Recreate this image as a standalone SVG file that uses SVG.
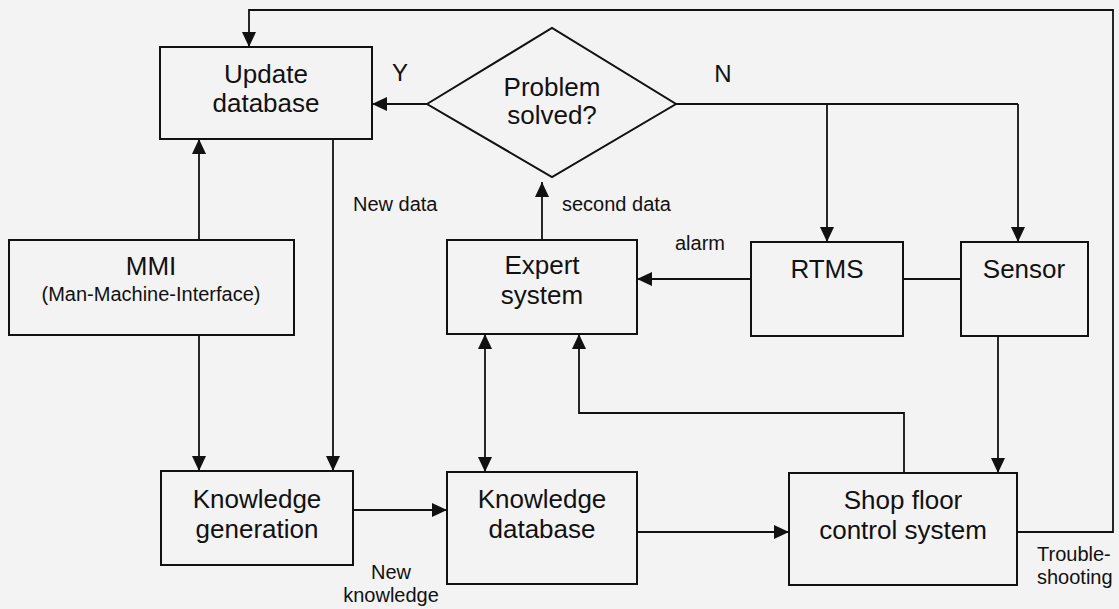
<svg xmlns="http://www.w3.org/2000/svg" width="1119" height="609" viewBox="0 0 1119 609">
  <style>
    .box { fill: none; stroke: #111; stroke-width: 2; }
    .wire { fill: none; stroke: #111; stroke-width: 1.8; }
    .lbl { font-family: "Liberation Sans", Arial, sans-serif; font-size: 26px; fill: #111; text-anchor: middle; }
    .sub { font-family: "Liberation Sans", Arial, sans-serif; font-size: 20px; fill: #111; text-anchor: middle; }
    .note { font-family: "Liberation Sans", Arial, sans-serif; font-size: 20px; fill: #111; }
    .yn { font-family: "Liberation Sans", Arial, sans-serif; font-size: 24px; fill: #111; text-anchor: middle; }
  </style>
  <defs>
    <marker id="arrow" markerUnits="userSpaceOnUse" markerWidth="16" markerHeight="14" refX="15" refY="7" orient="auto-start-reverse">
      <path d="M0,0 L15,7 L0,14 z" fill="#111"/>
    </marker>
  </defs>

  <rect x="0" y="0" width="1119" height="609" fill="#f3f3f3"/>

  <!-- connectors -->
  <g id="connectors">
    <!-- troubleshooting loop back to the update step -->
    <path class="wire" d="M1017,532 L1113,532 L1113,10 L249,10 L249,47" marker-end="url(#arrow)"/>
    <!-- Y branch -->
    <path class="wire" d="M427,104 L372,104" marker-end="url(#arrow)"/>
    <!-- N branch -->
    <path class="wire" d="M676,104 L1018,104"/>
    <path class="wire" d="M827,104 L827,242" marker-end="url(#arrow)"/>
    <path class="wire" d="M1018,104 L1018,242" marker-end="url(#arrow)"/>
    <!-- RTMS to Sensor -->
    <path class="wire" d="M903,279 L961,279"/>
    <!-- alarm -->
    <path class="wire" d="M751,279 L637,279" marker-end="url(#arrow)"/>
    <!-- second data -->
    <path class="wire" d="M542,240 L542,182" marker-end="url(#arrow)"/>
    <!-- MMI links -->
    <path class="wire" d="M199,240 L199,139" marker-end="url(#arrow)"/>
    <path class="wire" d="M199,335 L199,471" marker-end="url(#arrow)"/>
    <!-- new data -->
    <path class="wire" d="M333,139 L333,471" marker-end="url(#arrow)"/>
    <!-- new knowledge -->
    <path class="wire" d="M353,510 L447,510" marker-end="url(#arrow)"/>
    <!-- expert system <-> knowledge database -->
    <path class="wire" d="M485,334 L485,472" marker-start="url(#arrow)" marker-end="url(#arrow)"/>
    <!-- shop floor feedback to expert system -->
    <path class="wire" d="M904,473 L904,413 L579,413 L579,334" marker-end="url(#arrow)"/>
    <!-- knowledge database to shop floor -->
    <path class="wire" d="M637,532 L789,532" marker-end="url(#arrow)"/>
    <!-- sensor to shop floor -->
    <path class="wire" d="M998,336 L998,473" marker-end="url(#arrow)"/>
    <text class="yn" x="400" y="81">Y</text>
    <text class="yn" x="723" y="82">N</text>
    <text class="note" x="700" y="250" text-anchor="middle">alarm</text>
    <text class="note" x="562" y="211">second data</text>
    <text class="note" x="353" y="211">New data</text>
    <text class="note" x="391" y="579" text-anchor="middle">New</text>
    <text class="note" x="391" y="602" text-anchor="middle">knowledge</text>
    <text class="note" x="1037" y="561">Trouble-</text>
    <text class="note" x="1037" y="584">shooting</text>
  </g>

  <g id="update-database">
    <rect class="box" x="160" y="47" width="212" height="92"/>
    <text class="lbl" x="266" y="83">Update</text>
    <text class="lbl" x="266" y="112">database</text>
  </g>

  <g id="problem-solved">
    <polygon class="box" points="427,104 552,28 676,104 552,177"/>
    <text class="lbl" x="552" y="96">Problem</text>
    <text class="lbl" x="552" y="124">solved?</text>
  </g>

  <g id="mmi">
    <rect class="box" x="9" y="240" width="285" height="95"/>
    <text class="lbl" x="151" y="275">MMI</text>
    <text class="sub" x="151" y="301">(Man-Machine-Interface)</text>
  </g>

  <g id="expert-system">
    <rect class="box" x="447" y="240" width="190" height="94"/>
    <text class="lbl" x="542" y="274">Expert</text>
    <text class="lbl" x="542" y="304">system</text>
  </g>

  <g id="rtms">
    <rect class="box" x="751" y="242" width="152" height="94"/>
    <text class="lbl" x="827" y="278">RTMS</text>
  </g>

  <g id="sensor">
    <rect class="box" x="961" y="242" width="127" height="94"/>
    <text class="lbl" x="1024" y="278">Sensor</text>
  </g>

  <g id="knowledge-generation">
    <rect class="box" x="161" y="471" width="192" height="94"/>
    <text class="lbl" x="257" y="508">Knowledge</text>
    <text class="lbl" x="257" y="538">generation</text>
  </g>

  <g id="knowledge-database">
    <rect class="box" x="447" y="472" width="190" height="112"/>
    <text class="lbl" x="542" y="508">Knowledge</text>
    <text class="lbl" x="542" y="538">database</text>
  </g>

  <g id="shop-floor">
    <rect class="box" x="789" y="473" width="228" height="112"/>
    <text class="lbl" x="903" y="509">Shop floor</text>
    <text class="lbl" x="903" y="539">control system</text>
  </g>
</svg>
